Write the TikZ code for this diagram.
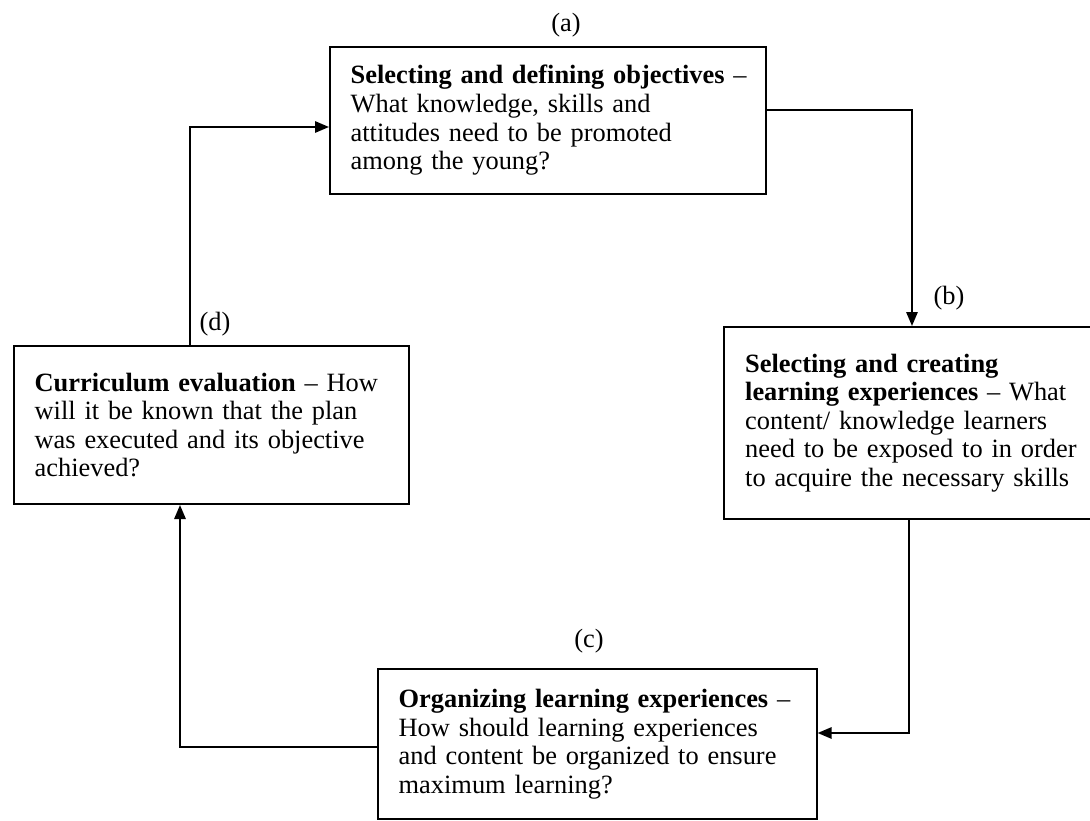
\documentclass[tikz,border=0pt]{standalone}
\usepackage{fontspec}
\setmainfont{Liberation Serif}
\usetikzlibrary{arrows.meta}

\tikzset{every picture/.style={line width=1.5pt}}

\begin{document}
\begin{tikzpicture}[x=0.75pt,y=0.75pt,yscale=-1,xscale=1,
  stage/.style={draw, anchor=north west, inner xsep=15.5pt, inner ysep=0pt, align=left, font=\fontsize{19.8}{21.4}\selectfont},
  link/.style={-{Triangle[length=10.5pt,width=8.5pt]}},
  tag/.style={inner sep=0pt, font=\fontsize{19.8}{21.4}\selectfont}]
\useasboundingbox (0,0) rectangle (1090,821);
%Stage boxes
\node[stage, text width=296pt, minimum width=327pt, minimum height=110pt] (a) at (329,46)
  {\mbox{\textbf{Selecting and defining objectives} --}\\What knowledge, skills and\\attitudes need to be promoted\\among the young?};
\node[stage, text width=251pt, minimum width=282.75pt, minimum height=144pt] (b) at (723,326)
  {\textbf{Selecting and creating}\\\textbf{learning experiences} -- What\\content/ knowledge learners\\need to be exposed to in order\\to acquire the necessary skills\\[4pt]};
\node[stage, text width=298pt, minimum width=329pt, minimum height=112.5pt] (c) at (377,668)
  {\mbox{\textbf{Organizing learning experiences} --}\\How should learning experiences\\and content be organized to ensure\\maximum learning?};
\node[stage, text width=265pt, minimum width=296pt, minimum height=118.5pt] (d) at (13,345)
  {\textbf{Curriculum evaluation} -- How\\will it be known that the plan\\was executed and its objective\\achieved?\\[4pt]};
%Stage letters
\node[tag] (la) at (566,25) {(a)};
\node[tag] (lb) at (949,298) {(b)};
\node[tag] (lc) at (589,641) {(c)};
\node[tag] (ld) at (215,324) {(d)};
%Cycle connectors
\coordinate (da) at (190,127);
\draw[link] (da |- d.north) -- (da) -- (a.west |- da);
\coordinate (ab) at (912,110);
\draw[link] (a.east |- ab) -- (ab) -- (ab |- b.north);
\coordinate (bc) at (909,733);
\draw[link] (bc |- b.south) -- (bc) -- (c.east |- bc);
\coordinate (cd) at (180,747);
\draw[link] (c.west |- cd) -- (cd) -- (cd |- d.south);
\end{tikzpicture}
\end{document}
